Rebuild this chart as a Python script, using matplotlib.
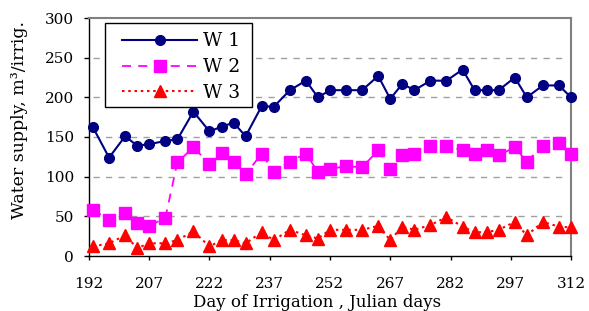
import matplotlib
matplotlib.use("Agg")
import matplotlib.pyplot as plt
from matplotlib.lines import Line2D
from matplotlib.patches import Rectangle

days = [193, 197, 201, 204, 207, 211, 214, 218, 222, 225, 228, 231,
        235, 238, 242, 246, 249, 252, 256, 260, 264, 267, 270,
        273, 277, 281, 285, 288, 291, 294, 298, 301, 305, 309, 312]
w1 = [162, 124, 151, 139, 141, 145, 147, 182, 157, 163, 168, 151,
      189, 188, 209, 221, 200, 209, 209, 209, 227, 198, 217,
      209, 221, 221, 235, 209, 209, 209, 225, 200, 215, 215, 200]
w2 = [58, 46, 54, 42, 38, 48, 118, 137, 116, 130, 119, 103,
      129, 106, 119, 129, 106, 110, 113, 112, 133, 110, 127,
      129, 139, 139, 133, 129, 133, 127, 137, 119, 139, 143, 129]
w3 = [12, 16, 26, 10, 16, 16, 20, 31, 12, 20, 20, 16,
      30, 20, 33, 26, 22, 33, 33, 33, 38, 20, 37,
      33, 39, 49, 37, 30, 30, 33, 43, 26, 43, 37, 36]
series_names = ['W 1', 'W 2', 'W 3']
xticks = [192, 207, 222, 237, 252, 267, 282, 297, 312]
yticks = [0, 50, 100, 150, 200, 250, 300]

plt.rcParams['font.family'] = ['DejaVu Serif']

W, H = 589, 311
fig = plt.figure(figsize=(W/100, H/100), dpi=100)
ax = fig.add_axes([89/W, 1-256/H, (571-89)/W, (256-18)/H])

styles = [
    dict(color='#000080', lw=1.5, ls='-', marker='o', ms=7),
    dict(color='#FF00FF', lw=1.3, ls=(0, (5, 4)), marker='s', ms=8.5),
    dict(color='#FF0000', lw=1.5, ls=(0, (1.2, 1.8)), marker='^', ms=8.5),
]
for vals, st, z in zip([w1, w2, w3], styles, [5, 4, 3]):
    ax.plot(days, vals, zorder=z, clip_on=False, **st)

ax.set_xlim(192, 312)
ax.set_ylim(0, 300)
ax.set_xticks(xticks)
ax.set_yticks(yticks)
ax.hlines([50, 100, 150, 200, 250], 193, 310.6, colors='#A0A0A0', lw=1.0,
          linestyles=(0, (4.5, 4.5)), zorder=1)

ax.tick_params(axis='x', direction='out', length=3, width=1, labelsize=11, pad=12)
ax.tick_params(axis='y', direction='out', length=3.8, width=1, labelsize=11, pad=7)
for s in ['left', 'bottom']:
    ax.spines[s].set_color('black')
    ax.spines[s].set_linewidth(1.0)
for s in ['top', 'right']:
    ax.spines[s].set_color('#808080')
    ax.spines[s].set_linewidth(1.5)

fig.text(20/W, 1-120/H, 'Water supply, m³/irrig.', rotation=90, ha='center', va='center',
         fontsize=12.5)
fig.text(317.5/W, 1-307/H, 'Day of Irrigation , Julian days', ha='center', va='baseline',
         fontsize=12)

def px(x, y):
    return (x/W, 1-y/H)

x0, y0, x1, y1 = 105, 23, 252, 107
fig.patches.append(Rectangle(px(x0, y1), (x1-x0)/W, (y1-y0)/H, transform=fig.transFigure,
                             facecolor='white', edgecolor='black', lw=1.0, zorder=10))
rows = [39.5, 65.5, 90.5]
for name, st, ry in zip(series_names, styles, rows):
    xa, ya = px(122, ry)
    xb, yb = px(197, ry)
    st2 = dict(st)
    mk = st2.pop('marker'); ms = st2.pop('ms')
    fig.lines.append(Line2D([xa, xb], [ya, yb], transform=fig.transFigure, zorder=11, **st2))
    xm, ym = px(159.5, ry)
    fig.lines.append(Line2D([xm], [ym], transform=fig.transFigure, marker=mk, ms=ms,
                            color=st['color'], ls='none', zorder=12))
    fig.text(203/W, 1-ry/H, name, ha='left', va='center_baseline', fontsize=13.5, zorder=12)

fig.savefig('out.png', dpi=100)
